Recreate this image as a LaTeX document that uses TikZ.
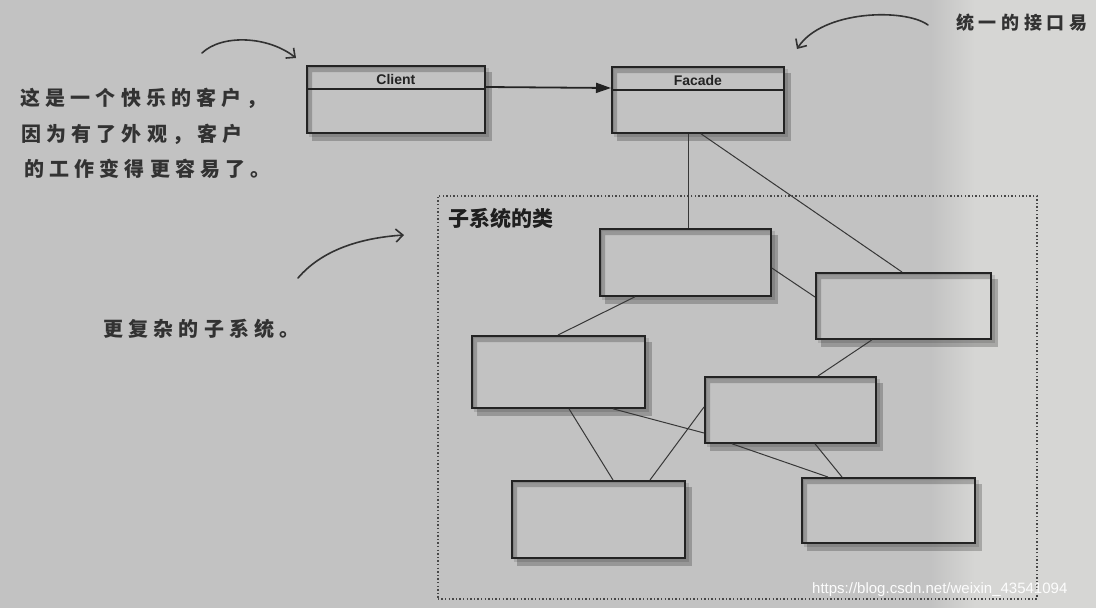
\documentclass[tikz,border=0pt]{standalone}
\usepackage{fontspec}
\setmainfont{Liberation Sans}
\newfontfamily\cjk{Noto Sans CJK SC}
\newfontfamily\hand[LetterSpace=26]{Noto Sans CJK SC}
\usetikzlibrary{arrows.meta,calc}
\pgfdeclarelayer{bglayer}
\pgfdeclarelayer{shadowlayer}
\pgfsetlayers{bglayer,shadowlayer,main}
\definecolor{bg}{RGB}{194,194,194}
\definecolor{bglight}{RGB}{214,214,212}
\definecolor{ink}{RGB}{35,35,35}
\definecolor{pen}{RGB}{50,50,50}
\definecolor{wire}{RGB}{55,55,55}
\newcommand{\boxshadow}[1]{%
  \begin{pgfonlayer}{shadowlayer}
    \fill[black,opacity=0.22,even odd rule]
      ([shift={(6pt,-7pt)}]#1.north west) rectangle ([shift={(6pt,-7pt)}]#1.south east)
      (#1.north west) rectangle (#1.south east);
    \fill[black,opacity=0.12,even odd rule]
      ([shift={(3pt,-3pt)}]#1.north west) rectangle ([shift={(3pt,-3pt)}]#1.south east)
      (#1.north west) rectangle (#1.south east);
  \end{pgfonlayer}}
\begin{document}
\begin{tikzpicture}[x=1pt,y=-1pt,
  box/.style={draw=ink,line width=1.8pt,anchor=north west,inner sep=0pt},
  clsname/.style={font=\bfseries\fontsize{14}{16}\selectfont,text=ink},
  wireline/.style={draw=wire,line width=1pt},
  handtext/.style={anchor=west,text=pen,inner sep=0pt,font=\hand\bfseries\fontsize{20}{24}\selectfont},
  handarrow/.style={draw=pen,line width=1.6pt,line cap=round,-{Straight Barb[length=7pt,width=13pt,line width=1.6pt]}},
  subframe/.style={draw=black!72,line width=1.6pt,dash pattern=on 1.4pt off 2.2pt,anchor=north west,inner sep=0pt}
]
\begin{pgfonlayer}{bglayer}
  \fill[bg] (0,0) rectangle (1096,608);
  \shade[left color=bg,right color=bglight] (930,0) rectangle (975,608);
  \fill[bglight] (975,0) rectangle (1096,608);
\end{pgfonlayer}
\useasboundingbox (0,0) rectangle (1096,608);

% class boxes
\node[box,minimum width=178pt,minimum height=67pt] (client) at (306,65) {};
\node[box,minimum width=172pt,minimum height=66pt] (facade) at (611,66) {};
\draw[ink,line width=1.6pt] ([yshift=-24pt]client.north west) -- ([yshift=-24pt]client.north east);
\draw[ink,line width=1.6pt] ([yshift=-24pt]facade.north west) -- ([yshift=-24pt]facade.north east);
\node[clsname] (clientname) at ([yshift=-14.5pt]client.north) {Client};
\node[clsname] (facadename) at ([yshift=-14.5pt]facade.north) {Facade};
\boxshadow{client}
\boxshadow{facade}
\draw[ink,line width=1.8pt,-{Triangle[length=15pt,width=10pt]}] ([yshift=-22pt]client.north east) -- ([yshift=-22pt]facade.north west);

% subsystem frame
\node[subframe,minimum width=599pt,minimum height=403pt] (sub) at (437,195) {};
\node[anchor=west,inner sep=0pt,text=black!88,font=\cjk\bfseries\fontsize{21}{24}\selectfont] (subtitle) at (448,218) {子系统的类};

% subsystem classes
\node[box,minimum width=171pt,minimum height=67pt] (A) at (599,228) {};
\node[box,minimum width=175pt,minimum height=66pt] (B) at (815,272) {};
\node[box,minimum width=173pt,minimum height=72pt] (C) at (471,335) {};
\node[box,minimum width=171pt,minimum height=66pt] (D) at (704,376) {};
\node[box,minimum width=173pt,minimum height=77pt] (E) at (511,480) {};
\node[box,minimum width=173pt,minimum height=65pt] (F) at (801,477) {};
\foreach \n in {A,B,C,D,E,F}{\boxshadow{\n}}

% connectors
\draw[wireline] ([xshift=77pt]facade.south west) -- ([xshift=89pt]A.north west);
\draw[wireline] ([xshift=90pt]facade.south west) -- ([xshift=87pt]B.north west);
\draw[wireline] ([yshift=-40pt]A.north east) -- ([yshift=-25pt]B.north west);
\draw[wireline] ([xshift=36pt]A.south west) -- ([xshift=87pt]C.north west);
\draw[wireline] ([xshift=57pt]B.south west) -- ([xshift=114pt]D.north west);
\draw[wireline] ([xshift=98pt]C.south west) -- ([xshift=102pt]E.north west);
\draw[wireline] ([xshift=142pt]C.south west) -- ([yshift=-57pt]D.north west);
\draw[wireline] ([xshift=139pt]E.north west) -- ([yshift=-31pt]D.north west);
\draw[wireline] ([xshift=28pt]D.south west) -- ([xshift=27pt]F.north west);
\draw[wireline] ([xshift=111pt]D.south west) -- ([xshift=41pt]F.north west);

% handwritten notes
\node[handtext] (note1) at (20,98) {这是一个快乐的客户，};
\node[handtext] (note2) at (21,134) {因为有了外观，客户};
\node[handtext] (note3) at (24,169) {的工作变得更容易了。};
\node[handtext] (note4) at (103,329) {更复杂的子系统。};
\node[handtext,font=\hand\bfseries\fontsize{18}{22}\selectfont] (note5) at (956,23) {统一的接口易};

\coordinate (a1s) at (202,53);
\coordinate (a1e) at (296,58);
\coordinate (a2s) at (928,25);
\coordinate (a2e) at (797,49);
\coordinate (a3s) at (298,278);
\coordinate (a3e) at (404,235);
\draw[handarrow] (a1s) .. controls (222,34) and (268,36) .. (a1e);
\draw[handarrow] (a2s) .. controls (905,8) and (822,10) .. (a2e);
\draw[handarrow] (a3s) .. controls (322,250) and (360,238) .. (a3e);

% watermark
\node[anchor=west,inner sep=0pt,text=white,opacity=0.95,font=\fontsize{15}{18}\selectfont] (wm) at (812,590) {https://blog.csdn.net/weixin\_43541094};
\end{tikzpicture}
\end{document}
